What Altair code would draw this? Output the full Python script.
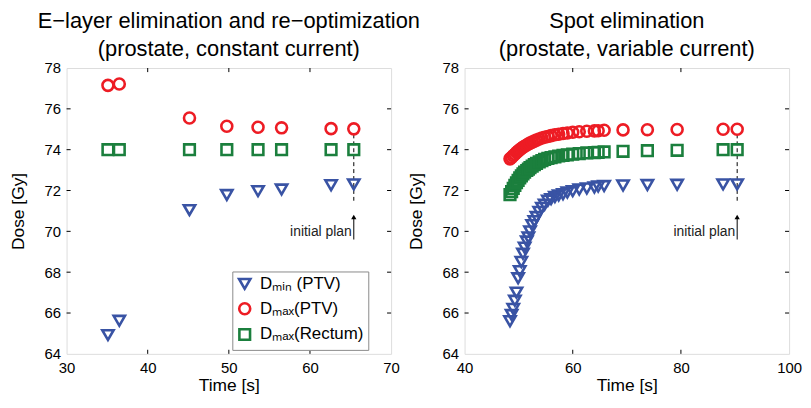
import altair as alt
import pandas as pd

FONT = "Liberation Sans"

series_names = ["Dₘᵢₙ (PTV)", "Dₘₐₓ(PTV)", "Dₘₐₓ(Rectum)"]
series_colors = ["#3953A4", "#ED1C24", "#1B7F3D"]
series_shapes = ["triangle-down", "circle", "square"]
series_sizes = [130, 115, 75]

# Left panel: E-layer elimination
left_time = [35.1, 36.5, 45.15, 49.75, 53.6, 56.5, 62.6, 65.4]
left_dmin = [64.92, 65.62, 71.04, 71.78, 71.97, 72.05, 72.26, 72.3]
left_dmax_ptv = [77.15, 77.22, 75.55, 75.15, 75.1, 75.07, 75.03, 75.02]
left_dmax_rectum = [74.0, 74.0, 74.0, 74.0, 74.0, 74.0, 74.0, 74.0]

# Right panel: spot elimination
right_time = [48.4, 48.7, 49.0, 49.3, 49.6, 49.9, 50.2, 50.5, 50.8, 51.1, 51.5, 51.8,
              52.1, 52.5, 52.9, 53.3, 53.8, 54.3, 54.8, 55.4, 56.0, 56.7, 57.4, 58.2,
              59.0, 60.0, 61.2, 62.6, 64.0, 64.7, 65.8, 69.3, 73.8, 79.3, 87.8, 90.4]
right_dmin = [65.6, 65.9, 66.2, 66.6, 67.0, 67.7, 68.05, 68.5, 68.9, 69.2, 69.5, 69.7,
              70.0, 70.3, 70.5, 70.7, 70.95, 71.15, 71.3, 71.5, 71.58, 71.68, 71.76, 71.82,
              71.9, 71.97, 72.05, 72.1, 72.15, 72.2, 72.22, 72.25, 72.27, 72.28, 72.3, 72.3]
right_dmax_ptv = [73.55, 73.62, 73.7, 73.78, 73.86, 73.93, 74.0, 74.06, 74.12, 74.17, 74.23, 74.28,
                  74.32, 74.37, 74.42, 74.47, 74.52, 74.57, 74.61, 74.65, 74.69, 74.73, 74.76, 74.79,
                  74.82, 74.85, 74.88, 74.9, 74.92, 74.93, 74.95, 74.97, 74.98, 74.99, 75.0, 75.0]
right_dmax_rectum = [71.8, 71.95, 72.1, 72.25, 72.38, 72.5, 72.62, 72.72, 72.82, 72.9, 72.98, 73.05,
                     73.12, 73.2, 73.27, 73.33, 73.4, 73.46, 73.52, 73.57, 73.61, 73.65, 73.69, 73.72,
                     73.75, 73.78, 73.81, 73.84, 73.86, 73.87, 73.89, 73.92, 73.95, 73.97, 74.0, 74.0]

left_titles = ["E−layer elimination and re−optimization", "(prostate, constant current)"]
right_titles = ["Spot elimination", "(prostate, variable current)"]

left_xdomain = [30, 70]
right_xdomain = [40, 100]
ydomain = [64, 78]
left_xticks = [30, 40, 50, 60, 70]
right_xticks = [40, 60, 80, 100]
yticks = [64, 66, 68, 70, 72, 74, 76, 78]

# "initial plan" annotation: x, dashed line top/bottom, arrow bottom/top
left_plan = {"x": 65.4, "dash_top": 74.75, "dash_bot": 71.5, "arr_bot": 69.6, "arr_top": 70.7, "text_y": 69.75}
right_plan = {"x": 90.4, "dash_top": 74.75, "dash_bot": 71.5, "arr_bot": 69.6, "arr_top": 70.7, "text_y": 69.75}

PW, PH = 327, 288


def long_df(time, a, b, c):
    rows = []
    for name, vals in zip(series_names, [a, b, c]):
        for t, v in zip(time, vals):
            rows.append({"time": t, "dose": v, "series": name})
    return pd.DataFrame(rows)


def panel(df, xdomain, xticks, titles, plan, show_legend, tick_dx):
    xs = alt.Scale(domain=xdomain, nice=False, zero=False)
    ys = alt.Scale(domain=ydomain, nice=False, zero=False)
    xaxis = alt.Axis(values=xticks, title="Time [s]", ticks=False, domain=False, grid=False,
                     labelPadding=7, titlePadding=1, labelFontSize=15, titleFontSize=17.5,
                     labelFont=FONT, titleFont=FONT, titleFontWeight="normal", labelColor="black",
                     titleColor="black", labelFlush=False)
    yaxis = alt.Axis(values=yticks, title="Dose [Gy]", ticks=False, domain=False, grid=False,
                     labelPadding=6, titlePadding=17, labelFontSize=15, titleFontSize=17.5,
                     labelFont=FONT, titleFont=FONT, titleFontWeight="normal", labelColor="black",
                     titleColor="black")
    if show_legend:
        legend = alt.Legend(orient="none", legendX=167, legendY=205, title=None,
                            strokeColor="#8a8a8a", padding=4, labelFontSize=17, labelFont=FONT,
                            labelColor="black", symbolStrokeWidth=2.6, symbolSize=110,
                            rowPadding=3, labelOffset=7, fillColor="white")
    else:
        legend = None
    pts = alt.Chart(df).mark_point(filled=False, strokeWidth=2.6, opacity=1).encode(
        x=alt.X("time:Q", scale=xs, axis=xaxis),
        y=alt.Y("dose:Q", scale=ys, axis=yaxis),
        color=alt.Color("series:N", scale=alt.Scale(domain=series_names, range=series_colors), legend=legend),
        shape=alt.Shape("series:N", scale=alt.Scale(domain=series_names, range=series_shapes), legend=legend),
        size=alt.Size("series:N", scale=alt.Scale(domain=series_names, range=series_sizes), legend=None),
    )

    # inward ticks on all four sides
    xt = pd.DataFrame({"t": xticks[1:-1]})
    yt = pd.DataFrame({"v": yticks[1:-1]})
    bottom = alt.Chart(xt).mark_rule(color="black", strokeWidth=1).encode(
        x=alt.X("t:Q", scale=xs), y=alt.datum(ydomain[0]), y2=alt.datum(ydomain[0] + 0.2))
    top = alt.Chart(xt).mark_rule(color="black", strokeWidth=1).encode(
        x=alt.X("t:Q", scale=xs), y=alt.datum(ydomain[1]), y2=alt.datum(ydomain[1] - 0.2))
    leftt = alt.Chart(yt).mark_rule(color="black", strokeWidth=1).encode(
        y=alt.Y("v:Q", scale=ys), x=alt.datum(xdomain[0]), x2=alt.datum(xdomain[0] + tick_dx))
    rightt = alt.Chart(yt).mark_rule(color="black", strokeWidth=1).encode(
        y=alt.Y("v:Q", scale=ys), x=alt.datum(xdomain[1]), x2=alt.datum(xdomain[1] - tick_dx))

    pdf = pd.DataFrame([plan])
    dash = alt.Chart(pdf).mark_rule(color="black", strokeWidth=1, strokeDash=[4, 3]).encode(
        x=alt.X("x:Q", scale=xs), y=alt.Y("dash_top:Q", scale=ys), y2="dash_bot:Q")
    arrow = alt.Chart(pdf).mark_rule(color="black", strokeWidth=1).encode(
        x=alt.X("x:Q", scale=xs), y=alt.Y("arr_bot:Q", scale=ys), y2="arr_top:Q")
    head = alt.Chart(pdf).mark_point(shape="triangle-up", filled=True, color="black", size=28, opacity=1).encode(
        x=alt.X("x:Q", scale=xs), y=alt.Y("arr_top:Q", scale=ys))
    label = alt.Chart(pdf).mark_text(text="initial plan", align="right", baseline="alphabetic",
                                     dx=-2, fontSize=14, font=FONT, color="#222222").encode(
        x=alt.X("x:Q", scale=xs), y=alt.Y("text_y:Q", scale=ys))

    return alt.layer(bottom, top, leftt, rightt, dash, arrow, head, label, pts).properties(
        width=PW, height=PH,
        title=alt.TitleParams(text=titles, fontSize=22, fontWeight="normal", font=FONT,
                              lineHeight=28, offset=0.5, anchor="middle", frame="group", color="black"),
    )


left_df = long_df(left_time, left_dmin, left_dmax_ptv, left_dmax_rectum)
right_df = long_df(right_time, right_dmin, right_dmax_ptv, right_dmax_rectum)

left = panel(left_df, left_xdomain, left_xticks, left_titles, left_plan, True, 0.5)
right = panel(right_df, right_xdomain, right_xticks, right_titles, right_plan, False, 0.75)

chart = alt.hconcat(left, right, spacing=-15).resolve_scale(
    x="independent", y="independent", color="independent", shape="independent", size="independent"
).resolve_legend(color="independent", shape="independent").properties(
    padding=0
).configure_view(
    stroke="black", strokeWidth=1.8
).configure(font=FONT)

chart.save("out.html", embed_options={"renderer": "svg", "actions": False})
